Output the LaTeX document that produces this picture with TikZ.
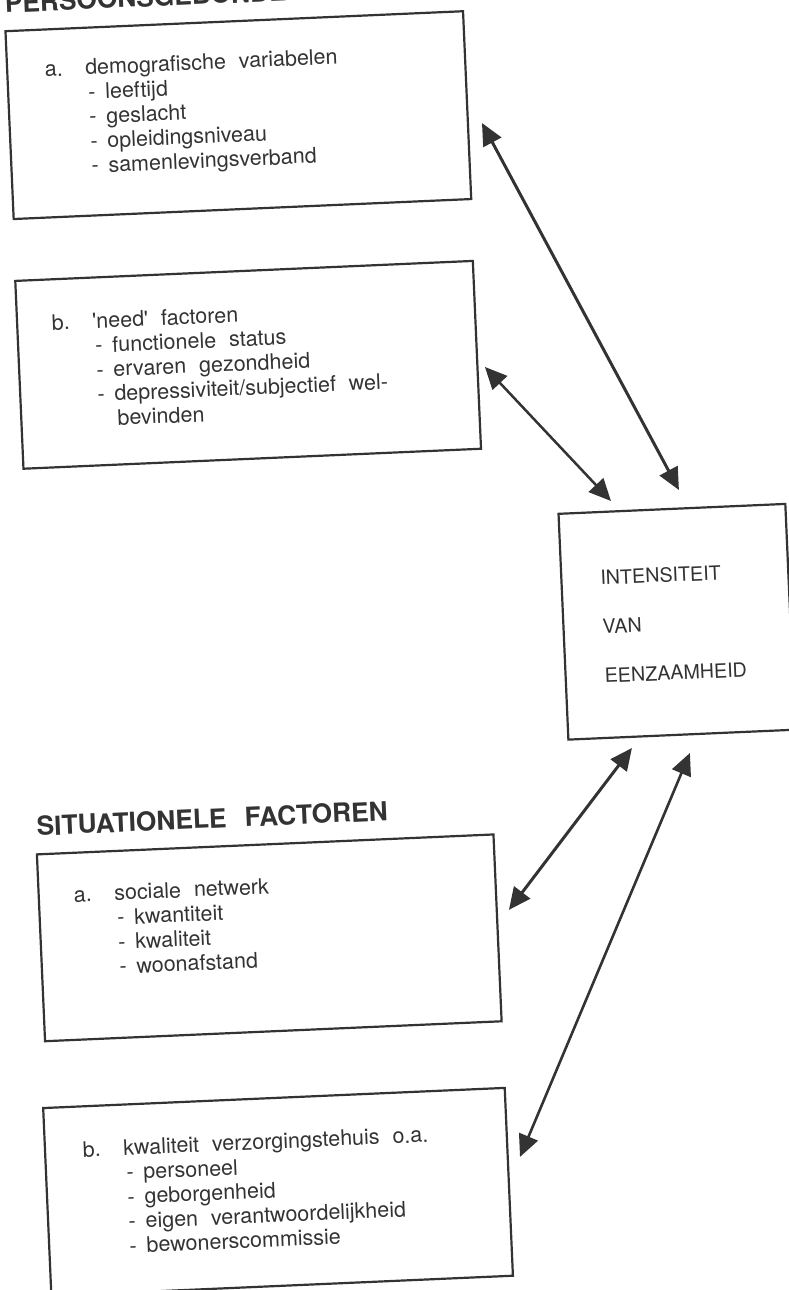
\documentclass[tikz,border=0pt]{standalone}
\usepackage{fontspec}
\setmainfont{TeX Gyre Heros}
\usetikzlibrary{arrows.meta,positioning}
\definecolor{ink}{HTML}{333333}
\newcommand{\wgap}{\hspace{0.6em}}
\newcommand{\itm}[1]{\hspace*{2pt}\makebox[17pt][l]{-}#1}
\newcommand{\lbl}[1]{\makebox[40.5pt][l]{#1}}

\begin{document}
\begin{tikzpicture}[x=1pt,y=-1pt]
        \tikzset{>={Triangle[length=22pt,width=20pt]}}
        \tikzstyle{factorbox}=[draw=ink,line width=2.2pt,minimum width=458pt,minimum height=188pt,anchor=north west,inner sep=0pt]
        \tikzstyle{factortext}=[anchor=base west,inner sep=0pt,text=ink,font=\fontsize{21.5}{24.5}\selectfont]
        \tikzstyle{heading}=[anchor=base west,inner sep=0pt,text=ink,font=\bfseries\fontsize{26.3}{30}\selectfont]
        \tikzstyle{link}=[<->,draw=ink,fill=ink,line width=3pt]

        \useasboundingbox (0,0) rectangle (789,1290);
        \clip (0,0) rectangle (789,1290);

        \begin{scope}[rotate around={2.5:(394.5,645)},transform shape]
        \node[heading] (persHead) at (33,-3.5) {PERSOONSGEBONDE};
        \node[heading] (sitHead) at (29,820) {SITUATIONELE\hspace{0.7em}FACTOREN};

        \node[factorbox] (demo) at (31.5,13.7) {};
        \node[factorbox] (need) at (30.4,263.6) {};
        \node[factorbox,minimum width=227pt,minimum height=226pt] (intens) at (563,520) {};
        \node[factorbox,minimum width=457pt,minimum height=187pt] (netwerk) at (27,837.5) {};
        \node[factorbox,minimum width=462pt] (tehuis) at (22.2,1091.2) {};

        \node[factortext] (demoText) at (70,62) {\begin{tabular}[t]{@{}l@{}l@{}}
            \lbl{a.} & demografische\wgap variabelen\\
            & \itm{leeftijd}\\
            & \itm{geslacht}\\
            & \itm{opleidingsniveau}\\
            & \itm{samenlevingsverband}
          \end{tabular}};
        \node[factortext] (needText) at (66,315.5) {\begin{tabular}[t]{@{}l@{}l@{}}
            \lbl{b.} & \textquotesingle need\textquotesingle\wgap factoren\\
            & \itm{functionele\wgap status}\\
            & \itm{ervaren\wgap gezondheid}\\
            & \itm{depressiviteit/subjectief\wgap wel-}\\
            & \hspace*{21pt}bevinden
          \end{tabular}};
        \node[factortext,font=\fontsize{19.7}{49}\selectfont] (intensText) at (603,594) {\begin{tabular}[t]{@{}l@{}}
            INTENSITEIT\\
            VAN\\
            EENZAAMHEID
          \end{tabular}};
        \node[factortext] (netwerkText) at (63,888) {\begin{tabular}[t]{@{}l@{}l@{}}
            \lbl{a.} & sociale\wgap netwerk\\
            & \itm{kwantiteit}\\
            & \itm{kwaliteit}\\
            & \itm{woonafstand}
          \end{tabular}};
        \node[factortext] (tehuisText) at (61,1143) {\begin{tabular}[t]{@{}l@{}l@{}}
            \lbl{b.} & kwaliteit\wgap verzorgingstehuis\wgap o.a.\\
            & \itm{personeel}\\
            & \itm{geborgenheid}\\
            & \itm{eigen\wgap verantwoordelijkheid}\\
            & \itm{bewonerscommissie}
          \end{tabular}};

        % free ends of the double arrows
        \coordinate (demoEnd) at (504.7,127.3);
        \coordinate (intensA) at (685.5,502.6);
        \coordinate (needEnd) at (497,371.2);
        \coordinate (intensB) at (617.1,510.6);
        \coordinate (intensC) at (627.3,758.3);
        \coordinate (netwerkEnd) at (497.3,914.7);
        \coordinate (intensD) at (685,765.8);
        \coordinate (tehuisEnd) at (497.6,1162);

        \draw[link] (demoEnd) -- (intensA);
        \draw[link,line width=2.5pt] (needEnd) -- (intensB);
        \draw[link] (intensC) -- (netwerkEnd);
        \draw[link,line width=2.6pt] (intensD) -- (tehuisEnd);
        \end{scope}
\end{tikzpicture}
\end{document}
